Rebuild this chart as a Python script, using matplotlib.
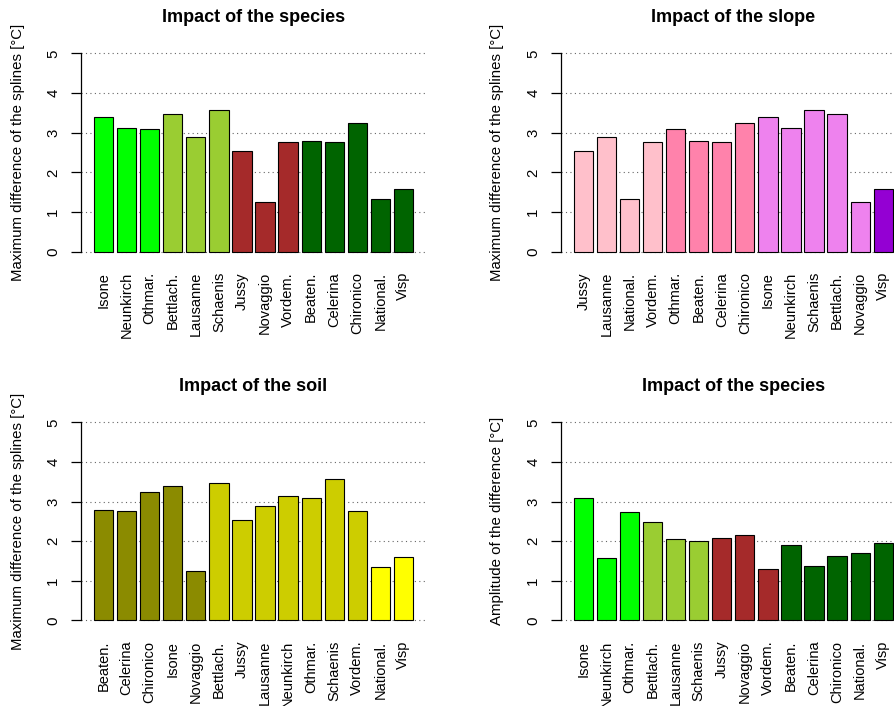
import matplotlib
matplotlib.use('Agg')
import matplotlib.pyplot as plt

plt.rcParams['font.family'] = ['Liberation Sans', 'DejaVu Sans']

# valeurs
sites = ['Isone', 'Neunkirch', 'Othmar.', 'Bettlach.', 'Lausanne', 'Schaenis', 'Jussy',
         'Novaggio', 'Vordem.', 'Beaten.', 'Celerina', 'Chironico', 'National.', 'Visp']
max_diff = [3.40, 3.13, 3.09, 3.48, 2.88, 3.57, 2.53, 1.24, 2.76, 2.79, 2.77, 3.25, 1.34, 1.59]
amplitude = [3.10, 1.57, 2.74, 2.47, 2.05, 2.00, 2.07, 2.15, 1.29, 1.90, 1.36, 1.62, 1.69, 1.95]

order_species = ['Isone', 'Neunkirch', 'Othmar.', 'Bettlach.', 'Lausanne', 'Schaenis', 'Jussy',
                 'Novaggio', 'Vordem.', 'Beaten.', 'Celerina', 'Chironico', 'National.', 'Visp']
order_slope = ['Jussy', 'Lausanne', 'National.', 'Vordem.', 'Othmar.', 'Beaten.', 'Celerina',
               'Chironico', 'Isone', 'Neunkirch', 'Schaenis', 'Bettlach.', 'Novaggio', 'Visp']
order_soil = ['Beaten.', 'Celerina', 'Chironico', 'Isone', 'Novaggio', 'Bettlach.', 'Jussy',
              'Lausanne', 'Neunkirch', 'Othmar.', 'Schaenis', 'Vordem.', 'National.', 'Visp']

col_species = ['#00FF00'] * 3 + ['#9ACD32'] * 3 + ['#A52A2A'] * 3 + ['#006400'] * 5
col_slope = ['#FFC0CB'] * 4 + ['#FF82AB'] * 4 + ['#EE82EE'] * 5 + ['#9400D3']
col_soil = ['#8B8B00'] * 5 + ['#CDCD00'] * 7 + ['#FFFF00'] * 2

fig = plt.figure(figsize=(8.94, 7.06), dpi=100)

W = 0.3855
panels = [
    ([0.0908, 0.6323, W, 0.3034], 'Impact of the species', order_species, max_diff, col_species,
     'Maximum difference of the splines [°C]', -0.163),
    ([0.6275, 0.6323, W, 0.3034], 'Impact of the slope', order_slope, max_diff, col_slope,
     'Maximum difference of the splines [°C]', -0.165),
    ([0.0908, 0.1102, W, 0.3028], 'Impact of the soil', order_soil, max_diff, col_soil,
     'Maximum difference of the splines [°C]', -0.163),
    ([0.6275, 0.1102, W, 0.3028], 'Impact of the species', order_species, amplitude, col_species,
     'Amplitude of the difference [°C]', -0.165),
]

for rect, title, order, values, colors, ylab, labx in panels:
    ax = fig.add_axes(rect)
    vals = [values[sites.index(s)] for s in order]
    x = [0.7 + 1.2 * i for i in range(len(order))]
    for h in range(6):
        ax.axhline(h, color='0.4', lw=0.8, linestyle=(0, (1, 3)), zorder=1)
    ax.bar(x, vals, width=1.0, color=colors, edgecolor='black', linewidth=0.8, zorder=2)
    ax.set_xlim(-0.464, 17.464)
    ax.set_ylim(-0.2, 5.2)
    for s in ['top', 'right', 'bottom']:
        ax.spines[s].set_visible(False)
    ax.spines['left'].set_bounds(0, 5)
    ax.spines['left'].set_color('black')
    ax.spines['left'].set_linewidth(0.9)
    ax.set_yticks(range(6))
    ax.tick_params(axis='y', length=7, width=0.9, pad=8, labelsize=10.8, labelrotation=90)
    for t in ax.get_yticklabels():
        t.set_va('center')
    ax.set_xticks(x)
    ax.set_xticklabels(order, rotation=90, fontsize=10.5)
    ax.tick_params(axis='x', length=0, pad=9)
    ax.set_title(title, fontsize=13, fontweight='bold', pad=17)
    ax.set_ylabel(ylab, fontsize=10.8)
    ax.yaxis.set_label_coords(labx, 0.5)
    ax.patch.set_alpha(0)

plt.savefig('out.png', dpi=100)
